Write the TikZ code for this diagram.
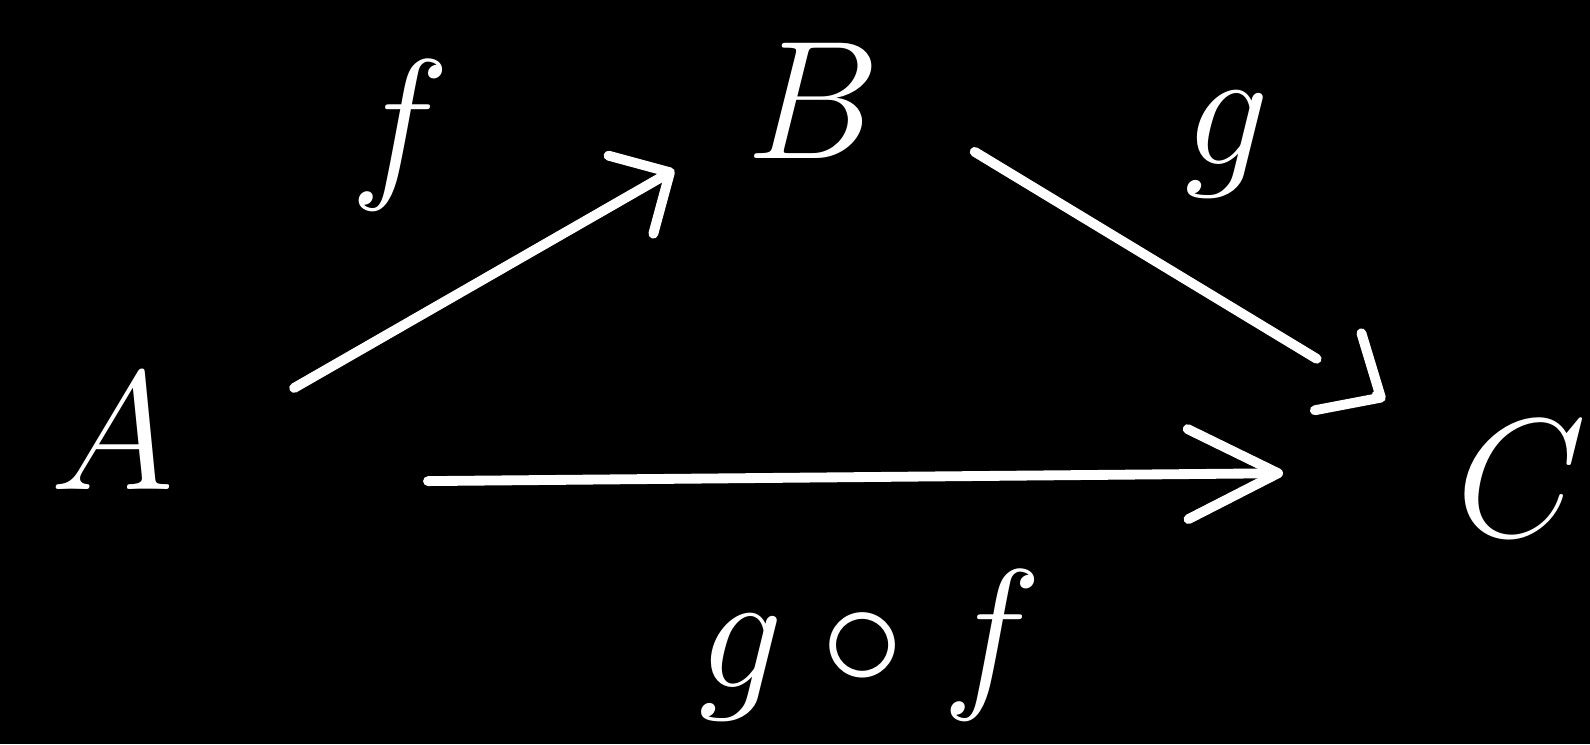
\RequirePackage{fix-cm}
\documentclass[tikz,border=0pt]{standalone}
\usetikzlibrary{arrows.meta}
\begin{document}
\begin{tikzpicture}[
  obj/.style={text=white, font=\fontsize{48}{58}\selectfont, inner sep=0pt},
  lbl/.style={text=white, font=\fontsize{48}{58}\selectfont, inner sep=0pt},
  arr/.style={draw=white, line width=2.8pt, line cap=round, line join=round},
  barb/.style={-{Straight Barb[length=#1,width=9mm,line width=2.8pt,round]}},
]
\fill[black] (0,0) rectangle (15.9,-7.44);
\useasboundingbox (0,0) rectangle (15.9,-7.44);
\node[obj] (A) at (1.12,-4.32) {$A$};
\node[obj] (B) at (8.13,-1.01) {$B$};
\node[obj] (C) at (15.22,-4.79) {$C$};
\node[lbl] (f) at (4.0,-1.35) {$f$};
\node[lbl] (g) at (12.27,-1.45) {$g$};
\node[lbl] (gf) at (8.70,-6.45) {$g\circ f$};
% A -> B
\draw[arr, barb=4.5mm, shorten <=2.1cm, shorten >=1.6cm]
  ([yshift=-0.605cm]A.center) -- ([yshift=0.108cm]B.center);
% B -> C : shaft and a detached head
\draw[arr, shorten <=1.89cm, shorten >=2.4cm]
  ([yshift=0.47cm]B.center) -- ([yshift=-0.04cm]C.center);
\draw[arr, barb=5mm, shorten <=6.63cm, shorten >=1.6cm]
  ([yshift=0.47cm]B.center) -- ([yshift=-0.04cm]C.center);
% A -> C
\draw[arr, barb=9mm, shorten <=3.16cm, shorten >=2.39cm]
  ([yshift=-0.52cm]A.center) -- ([yshift=0.08cm]C.center);
\end{tikzpicture}
\end{document}
